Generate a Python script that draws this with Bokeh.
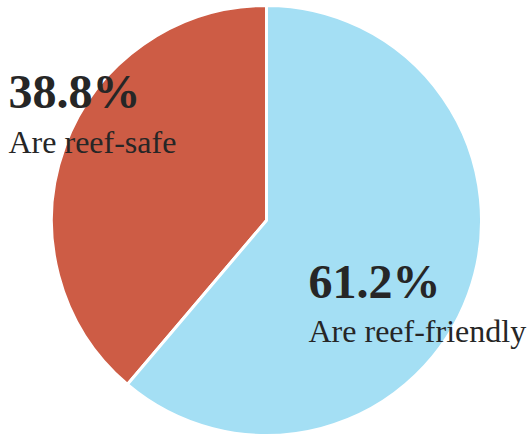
import math
from bokeh.plotting import figure
from bokeh.models import Range1d, ColumnDataSource
from bokeh.core.properties import value
from bokeh.embed import file_html
from bokeh.resources import INLINE

# Data
categories = ["Are reef-safe", "Are reef-friendly"]
shares = [38.8, 61.2]
pct_labels = ["38.8%", "61.2%"]
colors = ["#CD5C45", "#A4DFF4"]

W, H = 529, 436
p = figure(width=W, height=H, output_backend="svg", toolbar_location=None,
           x_range=Range1d(0, W), y_range=Range1d(0, H),
           min_border=0, outline_line_color=None)
p.axis.visible = False
p.grid.visible = False
p.background_fill_color = "white"
p.border_fill_color = "white"

cx, cy, r = 266, H - 220, 215

# wedges: start at 12 o'clock, red goes anticlockwise, blue the rest
starts, ends = [], []
a = 90.0
for s in shares:
    starts.append(math.radians(a))
    a += s / 100 * 360
    ends.append(math.radians(a))

src = ColumnDataSource(dict(start=starts, end=ends, color=colors))
p.wedge(x=cx, y=cy, radius=r, start_angle="start", end_angle="end",
        fill_color="color", line_color="white", line_width=3, source=src)

# labels
lab_x = [8, 308]
pct_base = [91, 281]
cat_base = [141, 330]
p.text(x=lab_x, y=[H - b for b in pct_base], text=pct_labels,
       text_font=value("Liberation Serif"), text_font_style="bold",
       text_font_size="48px", text_color="#262626",
       text_align="left", text_baseline="alphabetic")
p.text(x=lab_x, y=[H - b for b in cat_base], text=categories,
       text_font=value("Liberation Serif"),
       text_font_size="32px", text_color="#262626",
       text_align="left", text_baseline="alphabetic")

open("out.html", "w").write(file_html(p, INLINE))
